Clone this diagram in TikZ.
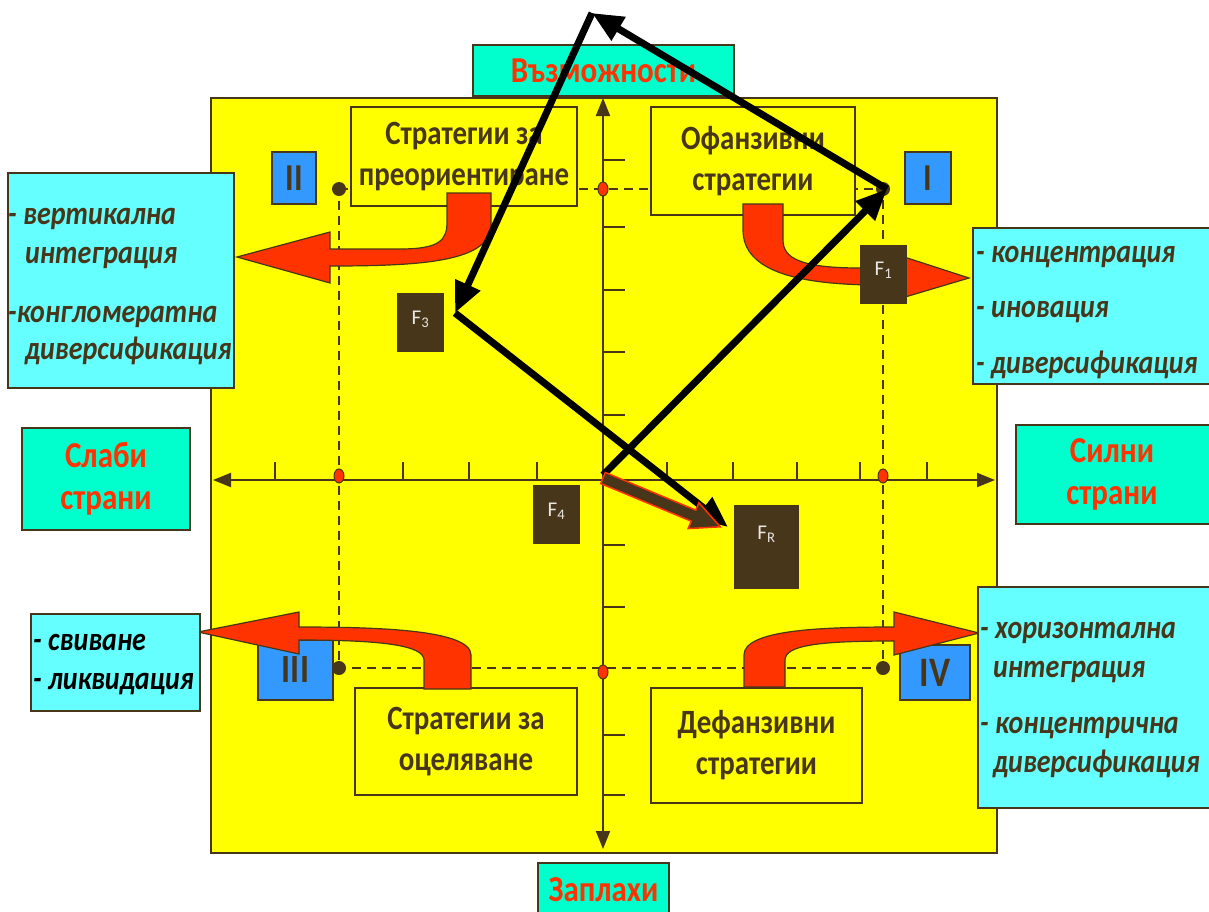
\documentclass[tikz,border=0pt]{standalone}
\usepackage{fontspec}
\setmainfont{Carlito}[FakeStretch=0.85]
\newfontfamily\forcefont{Carlito}
\usetikzlibrary{arrows.meta,positioning}
\definecolor{brn}{RGB}{72,54,26}
\definecolor{teal1}{RGB}{0,255,204}
\definecolor{cyan1}{RGB}{102,255,255}
\definecolor{blue1}{RGB}{51,153,255}
\definecolor{red1}{RGB}{255,51,0}
\definecolor{yel}{RGB}{255,255,0}
\begin{document}
\begin{tikzpicture}[x=1pt,y=-1pt,
  box/.style={draw=brn,line width=1.5pt,inner sep=0pt},
  side node/.style={box,fill=teal1,text=red1,font=\fontsize{36.5}{42}\selectfont\bfseries,align=center},
  strat node/.style={box,fill=yel,text=brn,font=\fontsize{34}{41}\selectfont\bfseries,align=center},
  quad node/.style={box,fill=blue1,text=brn,font=\fontsize{38}{38}\selectfont\bfseries},
  list node/.style={box,fill=cyan1},
  item/.style={anchor=base west,inner sep=0pt,text=brn,font=\fontsize{33}{33}\selectfont\bfseries\itshape},
  f node/.style={fill=brn,text=white!88!brn,font=\forcefont\fontsize{21}{21}\selectfont,inner sep=0pt},
  bent/.style={fill=red1,draw=brn,line width=1.2pt},
  force/.style={line width=7pt,-{Triangle[length=31pt,width=26pt]}},
  axis/.style={draw=brn,line width=2pt,>={Triangle[length=18pt,width=14pt]},<->},
  grid line/.style={draw=brn,line width=2pt,dash pattern=on 9pt off 6pt}]
\useasboundingbox (0,0) rectangle (1209,911);
% field and axes
\draw[fill=yel,draw=brn,line width=1.5pt] (211,98) rectangle (997,853);
\draw[axis] (603,849) -- (603,98);
\draw[axis] (213,480) -- (995,480);
\foreach \x in {275,403,469,537,667,733,797,860,927}
  \draw[brn,line width=2pt] (\x,480) -- (\x,462);
\foreach \y in {160,227,290,352,415,545,607,735,795}
  \draw[brn,line width=2pt] (603,\y) -- (625,\y);
% quadrant corners
\coordinate (c1) at (883,189);
\coordinate (c2) at (339,189);
\coordinate (c3) at (339,668);
\coordinate (c4) at (883,668);
\draw[grid line] (c2) -- (c1) -- (c4) -- (c3) -- cycle;
\foreach \c in {c1,c2,c3,c4} \fill[brn] (\c) circle (7);
\foreach \p in {(603,189),(603,672),(339,476),(883,476)}
  \filldraw[fill=red1,draw=brn,line width=1pt] \p ellipse (5 and 7);
% strategy boxes
\node[strat node,minimum width=226,minimum height=99] (s2) at (464,156.5) {Стратегии за\\преориентиране};
\node[strat node,minimum width=204,minimum height=108] (s1) at (753,161) {Офанзивни\\стратегии};
\node[strat node,minimum width=222,minimum height=107] (s3) at (466,741.5) {Стратегии за\\оцеляване};
\node[strat node,minimum width=211,minimum height=115] (s4) at (756.5,745.5) {Дефанзивни\\стратегии};
% quadrant numbers
\node[quad node,minimum width=44,minimum height=52] (q2) at (294,178) {II};
\node[quad node,minimum width=46,minimum height=52] (q1) at (928,178) {I};
\node[quad node,minimum width=75,minimum height=60,font=\fontsize{40}{40}\selectfont\bfseries] (q3) at (295.5,670) {III};
\node[quad node,minimum width=70,minimum height=55,font=\fontsize{42}{42}\selectfont\bfseries] (q4) at (935,672.5) {IV};
% bent arrows
\draw[bent] (491,193) -- (491,225) .. controls (491,262) and (420,266) .. (330,266) -- (330,283) -- (237,257)
  -- (330,232) -- (330,249) -- (400,249) .. controls (440,249) and (447,240) .. (447,222) -- (447,193) -- cycle;
\draw[bent] (743,204) -- (743,230) .. controls (743,272) and (800,285) .. (880,285) -- (895,285) -- (895,300) -- (969,278)
  -- (895,254) -- (895,268) -- (860,268) .. controls (800,268) and (783,258) .. (783,240) -- (783,204) -- cycle;
\draw[bent] (471,689) -- (471,655) .. controls (471,630) and (380,627) .. (299,627) -- (299,612) -- (198,632)
  -- (299,654) -- (299,640) .. controls (380,640) and (424,645) .. (424,660) -- (424,689) -- cycle;
\draw[bent] (744,687) -- (744,655) .. controls (744,630) and (820,627) .. (894,627) -- (894,612) -- (979,633)
  -- (894,655) -- (894,641) .. controls (820,641) and (785,645) .. (785,660) -- (785,687) -- cycle;
% side labels
\node[side node,minimum width=261,minimum height=51] (up) at (603.5,70.5) {Възможности};
\node[side node,minimum width=168,minimum height=102] (weak) at (106,479) {Слаби\\страни};
\draw[fill=teal1,draw=brn,line width=1.5pt] (1016,425) rectangle (1230,524);
\node[side node,draw=none,fill=none] (strong) at (1112,474.5) {Силни\\страни};
\node[side node,minimum width=131,minimum height=54] (down) at (603.5,890) {Заплахи};
% strategy lists
\node[list node,minimum width=226,minimum height=215] (l2) at (121,280.5) {};
\node[item] at (8,224) {- вертикална};
\node[item] at (25,263) {интеграция};
\node[item] at (8,322) {-конгломератна};
\node[item] at (25,359) {диверсификация};
\node[list node,minimum width=260,minimum height=156] (l1) at (1103,306) {};
\node[item] at (976,262) {- концентрация};
\node[item] at (976,317) {- иновация};
\node[item] at (976,373) {- диверсификация};
\node[list node,minimum width=169,minimum height=97] (l3) at (115.5,662.5) {};
\node[item,text=black] at (33,650) {- свиване};
\node[item,text=black] at (33,689) {- ликвидация};
\node[list node,minimum width=256,minimum height=221] (l4) at (1106,697.5) {};
\node[item] at (980,638) {- хоризонтална};
\node[item] at (993,677) {интеграция};
\node[item] at (980,733) {- концентрична};
\node[item] at (993,772) {диверсификация};
% forces
\node[f node,minimum width=47,minimum height=59] (F1) at (883.5,274.5) {\raisebox{12pt}{F\textsubscript{1}}};
\node[f node,minimum width=47,minimum height=59] (F3) at (420.5,322.5) {\raisebox{10pt}{F\textsubscript{3}}};
\node[f node,minimum width=47,minimum height=59] (F4) at (556.5,514.5) {\raisebox{10pt}{F\textsubscript{4}}};
\node[f node,minimum width=65,minimum height=84] (FR) at (766.5,547) {\raisebox{28pt}{F\textsubscript{R}}};
\coordinate (O) at (603,475);
\coordinate (A) at (887,189);
\coordinate (B) at (592,13);
\coordinate (C) at (455,313);
\coordinate (D) at (728,527);
\draw[force] (O) -- (A);
\draw[force] (A) -- (B);
\draw[force] (B) -- (C);
\draw[force] (C) -- (D);
% resultant
\begin{scope}[shift={(603,478)},rotate=-22.6]
  \filldraw[fill=brn,draw=red1,line width=1.5pt] (0,-6) -- (98,-6) -- (98,-14) -- (127,0) -- (98,14) -- (98,6) -- (0,6) -- cycle;
\end{scope}
\end{tikzpicture}
\end{document}
